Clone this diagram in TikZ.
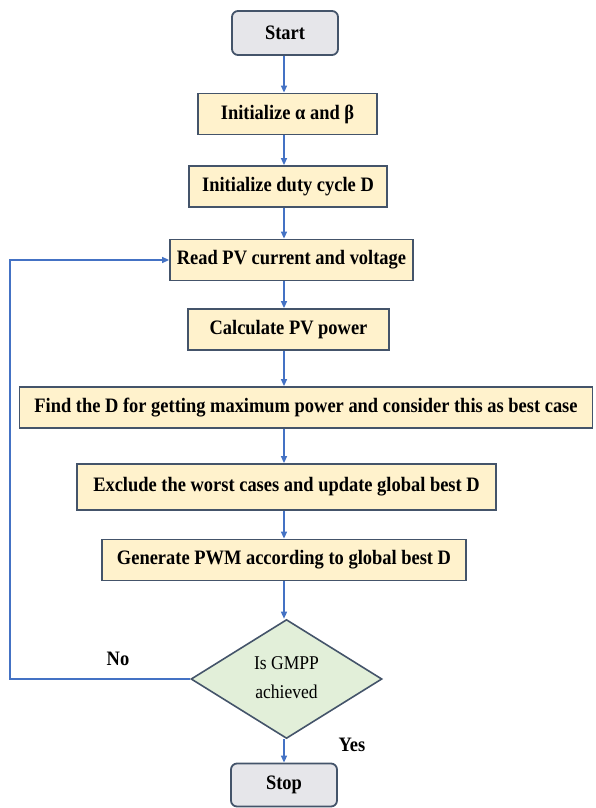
\documentclass[tikz,border=0pt]{standalone}
\usepackage{fontspec}
\setmainfont{Liberation Serif}
\newfontfamily\condfont[FakeStretch=0.9]{Liberation Serif}
\usetikzlibrary{shapes.geometric,arrows.meta}
\definecolor{linkblue}{HTML}{4472C4}
\definecolor{edgegray}{HTML}{44546A}
\definecolor{boxfill}{HTML}{FFF2CC}
\definecolor{termfill}{HTML}{E6E6EA}
\definecolor{decfill}{HTML}{E2EFD9}
\tikzset{
  procbox/.style={draw=edgegray, line width=1.8pt, fill=boxfill, minimum height=41pt, inner sep=0pt, font=\condfont\fontsize{20.5}{24}\selectfont\bfseries},
  termbox/.style={draw=edgegray, line width=1.8pt, fill=termfill, rounded corners=6pt, minimum width=106pt, minimum height=44pt, inner sep=0pt, font=\condfont\fontsize{20.5}{24}\selectfont\bfseries},
  decbox/.style={draw=edgegray, line width=1.6pt, fill=decfill, diamond, aspect=1.6, minimum width=191pt, minimum height=119pt, inner sep=0pt, font=\condfont\fontsize{19.5}{27}\selectfont},
  link/.style={draw=linkblue, line width=1.4pt, -{Triangle[length=7pt,width=6pt]}},
  lab/.style={font=\condfont\fontsize{20.5}{24}\selectfont\bfseries, inner sep=0pt}
}
\begin{document}
\begin{tikzpicture}[x=1pt,y=-1pt]
\useasboundingbox (0,0) rectangle (596,808);
\coordinate (ax) at (284,0);
\node[termbox] (start) at (285,33) {Start};
\node[procbox, minimum width=179pt] (init1) at (287.5,114) {Initialize α and β};
\node[procbox, minimum width=198pt] (init2) at (288,186.5) {Initialize duty cycle D};
\node[procbox, minimum width=243pt] (read) at (291.5,260) {Read PV current and voltage};
\node[procbox, minimum width=201pt] (calc) at (288.5,329.5) {Calculate PV power};
\node[procbox, minimum width=573pt] (find) at (306,407.5) {Find the D for getting maximum power and consider this as best case};
\node[procbox, minimum width=419pt, minimum height=46pt] (excl) at (286.5,487) {Exclude the worst cases and update global best D};
\node[procbox, minimum width=364pt] (gen) at (284,560) {Generate PWM according to global best D};
\node[decbox] (dec) at (286.5,679) {\raisebox{-4pt}{\begin{tabular}{@{}c@{}}Is GMPP\\[2pt]achieved\end{tabular}}};
\node[termbox, minimum height=43pt] (stop) at (284,785) {Stop};
\coordinate (loopx) at (10,0);
\draw[link] (start.south -| ax) -- (init1.north -| ax);
\draw[link] (init1.south -| ax) -- (init2.north -| ax);
\draw[link] (init2.south -| ax) -- (read.north -| ax);
\draw[link] (read.south -| ax) -- (calc.north -| ax);
\draw[link] (calc.south -| ax) -- (find.north -| ax);
\draw[link] (find.south -| ax) -- (excl.north -| ax);
\draw[link] (excl.south -| ax) -- (gen.north -| ax);
\draw[link] (gen.south -| ax) -- (dec.north -| ax);
\draw[link] (dec.south -| ax) -- (stop.north -| ax);
\draw[link] (dec.west) -- (dec.west -| loopx) -- (read.west -| loopx) -- (read.west);
\node[lab] (no) at (118,659) {No};
\node[lab] (yes) at (352,745) {Yes};
\end{tikzpicture}
\end{document}
